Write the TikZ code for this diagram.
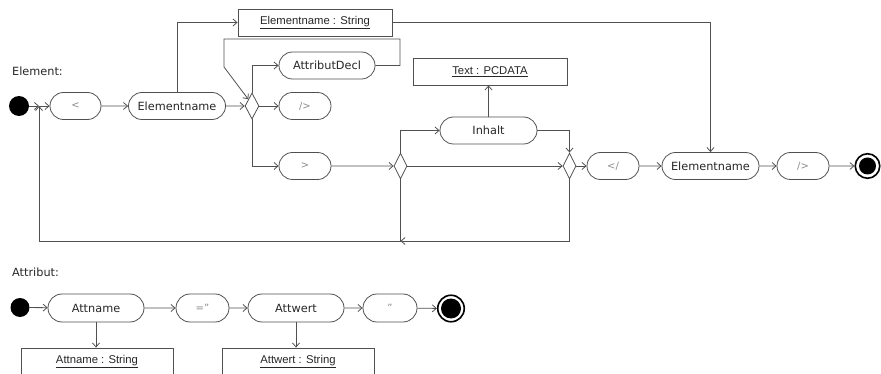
\documentclass[tikz,border=0pt]{standalone}
\usepackage{fontspec}
\setmainfont{DejaVu Sans}
\newfontfamily\boxfont{Liberation Sans}
\usetikzlibrary{shapes.misc,shapes.geometric,arrows.meta}

\definecolor{linec}{HTML}{505050}
\definecolor{txtc}{HTML}{262626}
\definecolor{symc}{HTML}{8A8A8A}

\tikzset{
  pill/.style={rounded rectangle, draw=linec, line width=0.8pt, minimum height=27pt,
    inner sep=0pt, text=txtc, font=\fontsize{11.3}{13}\selectfont},
  sympill/.style={pill, text=symc, font=\fontsize{10}{12}\selectfont},
  objbox/.style={rectangle, draw=linec, line width=0.8pt, minimum width=154pt,
    minimum height=27pt, inner sep=0pt, text=txtc, font=\boxfont\fontsize{11.3}{13}\selectfont},
  branch/.style={diamond, draw=linec, line width=0.8pt, minimum width=14pt,
    minimum height=26pt, inner sep=0pt},
  startdot/.style={circle, fill=black, minimum size=20pt, inner sep=0pt},
  enddot/.style={circle, draw=black, line width=1.6pt, inner sep=0pt,
    path picture={\fill[black] (path picture bounding box.center) circle (#1);}},
  flow/.style={draw=linec, line width=0.8pt, -{Straight Barb[length=4pt,width=7pt]}},
  heading/.style={anchor=west, inner sep=0pt, text=txtc, font=\fontsize{11.3}{13}\selectfont}
}

\begin{document}
\begin{tikzpicture}[x=1pt,y=-1pt]
\useasboundingbox (0,0) rectangle (881,374);

% ---------- Element ----------
\node[heading] (hElem) at (12,71) {Element:};

\node[startdot] (s1) at (19,106) {};
\coordinate (j1) at (39,106);
\node[sympill, minimum width=51pt] (lt) at (75.5,106) {<};
\node[pill, minimum width=97pt] (en1) at (177,106) {Elementname};
\node[branch] (d1) at (252,106) {};
\node[pill, minimum width=96pt] (ad) at (327,65.5) {AttributDecl};
\node[sympill, minimum width=52pt] (sl1) at (305,106) {/>};
\node[sympill, minimum width=52pt] (gt) at (305,166) {>};
\node[objbox] (ens) at (315,22.5) {\underline{Elementname : String}};
\node[branch, minimum width=13pt] (d2) at (400.5,166) {};
\node[pill, minimum width=97pt] (inh) at (488.5,130.5) {Inhalt};
\node[objbox] (txt) at (490,71.5) {\underline{Text : PCDATA}};
\node[branch, minimum width=13pt] (d3) at (569.5,166) {};
\node[sympill, minimum width=52pt] (cl) at (613,166) {</};
\node[pill, minimum width=97pt] (en2) at (710.5,166) {Elementname};
\node[sympill, minimum width=52pt] (sl2) at (803,166) {/>};
\node[enddot=8.5pt, minimum size=24.5pt] (e1) at (867.5,166) {};

% corner points of the attribute loop and the return path
\coordinate (l1) at (400,39);
\coordinate (l2) at (224,39);
\coordinate (l3) at (224,67);
\coordinate (m) at (400.5,241);

\draw[flow] (s1) -- (j1);
\draw[flow] (j1) -- (lt);
\draw[flow] (lt) -- (en1);
\draw[flow] (en1.north) |- (ens.west);
\draw[flow] (en1) -- (d1);
\draw[flow] (d1.north) |- (ad.west);
\draw[flow] (d1) -- (sl1);
\draw[flow] (d1.south) |- (gt.west);
\draw[flow] (ad.east) -| (l1) -- (l2) -- (l3) -- (d1.north west);
\draw[flow] (ens.east) -| (en2.north);
\draw[flow] (gt) -- (d2);
\draw[flow] (d2.north) |- (inh.west);
\draw[flow] (inh.north) -- (inh.north |- txt.south);
\draw[flow] (inh.east) -| (d3.north);
\draw[flow] (d2) -- (d3);
\draw[flow] (d3.south) |- (m);
\draw[flow] (d2.south) -- (m) -| (j1);
\draw[flow] (d3) -- (cl);
\draw[flow] (cl) -- (en2);
\draw[flow] (en2) -- (sl2);
\draw[flow] (sl2) -- (e1);

% ---------- Attribut ----------
\node[heading] (hAttr) at (12,272) {Attribut:};

\node[startdot, minimum size=19pt] (s2) at (20,307.5) {};
\node[pill, minimum width=96pt, minimum height=28pt] (an) at (96,308) {Attname};
\node[sympill, minimum width=53pt, minimum height=28pt] (eq) at (202.5,308) {="};
\node[pill, minimum width=96pt, minimum height=28pt] (aw) at (296,308) {Attwert};
\node[sympill, minimum width=54pt, minimum height=28pt] (qu) at (390,308) {"};
\node[enddot=10pt, minimum size=26.5pt] (e2) at (451,308.5) {};
\node[objbox, minimum width=152pt] (ans) at (97,361.5) {\underline{Attname : String}};
\node[objbox, minimum width=152pt] (aws) at (298,361.5) {\underline{Attwert : String}};

\draw[flow] (s2) -- (an);
\draw[flow] (an) -- (eq);
\draw[flow] (eq) -- (aw);
\draw[flow] (aw) -- (qu);
\draw[flow] (qu) -- (e2);
\draw[flow] (an.south) -- (an.south |- ans.north);
\draw[flow] (aw.south) -- (aw.south |- aws.north);
\end{tikzpicture}
\end{document}
